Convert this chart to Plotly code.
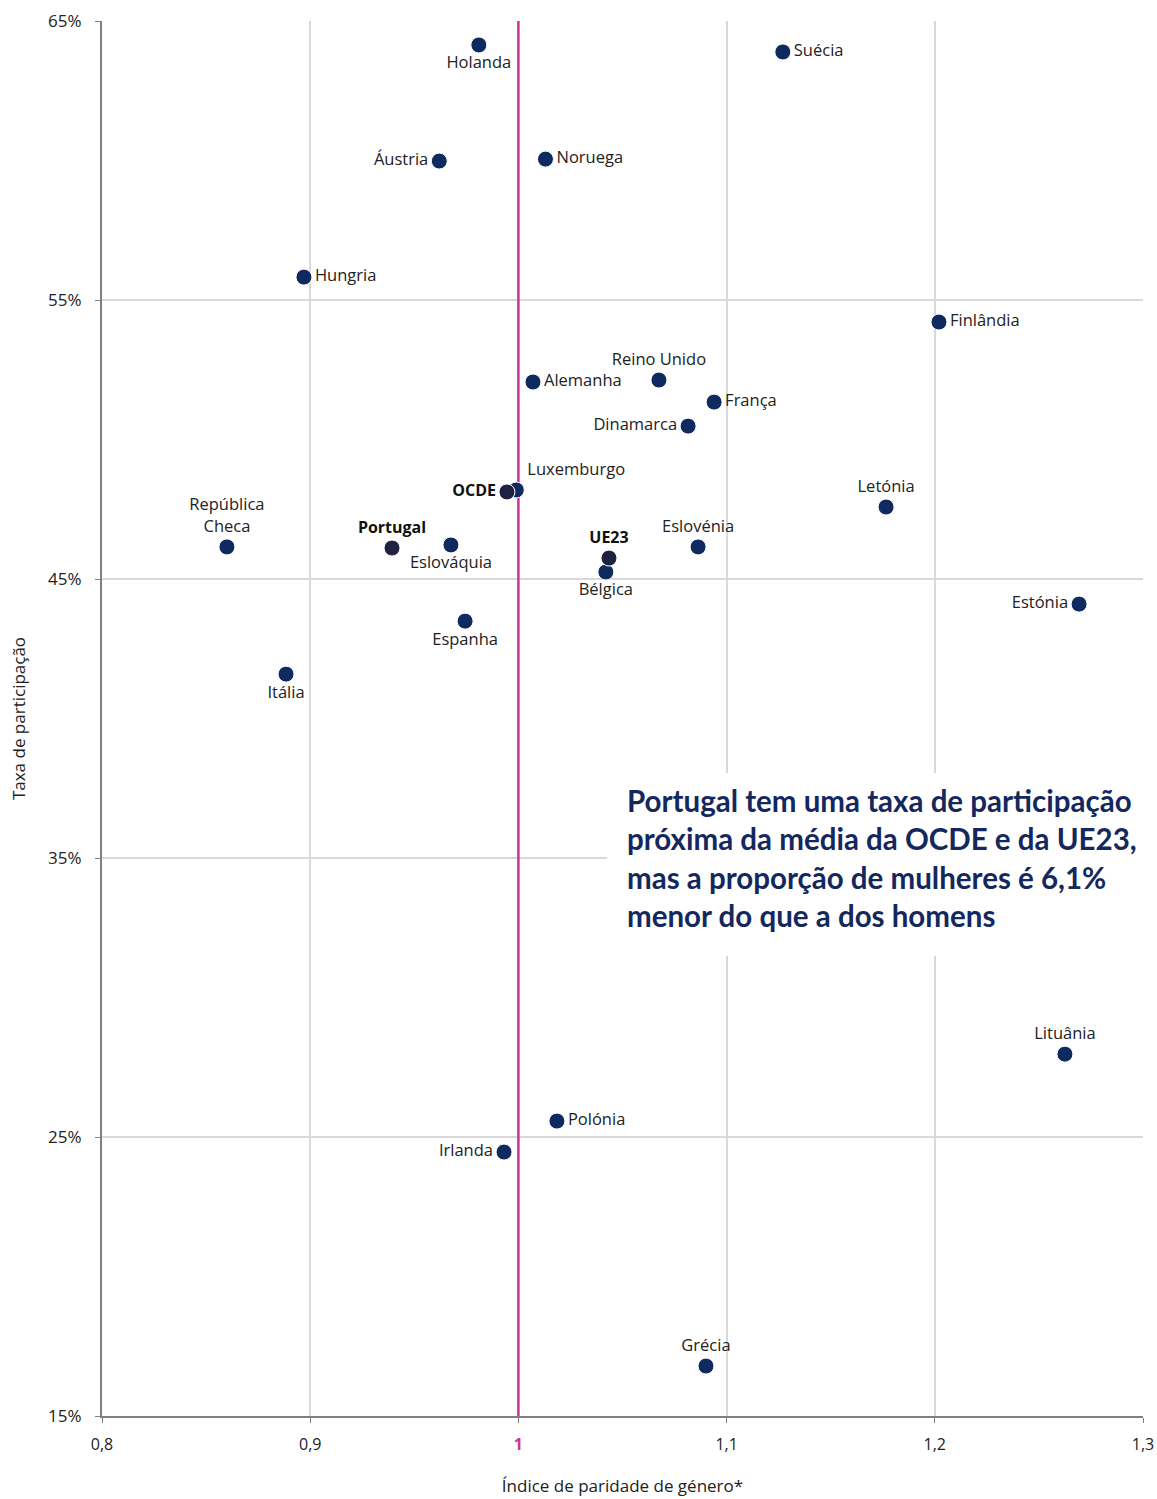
import plotly.graph_objects as go

# ---- data ----
countries = ["Holanda", "Suécia", "Áustria", "Noruega", "Hungria", "Finlândia",
             "Reino Unido", "Alemanha", "França", "Dinamarca", "Luxemburgo", "Letónia",
             "República<br>Checa", "Eslováquia", "Eslovénia", "Bélgica", "Estónia",
             "Espanha", "Itália", "Lituânia", "Polónia", "Irlanda", "Grécia"]
parity = [0.981, 1.127, 0.962, 1.013, 0.897, 1.202,
          1.0675, 1.007, 1.094, 1.0815, 0.999, 1.1766,
          0.860, 0.9676, 1.0863, 1.042, 1.2693,
          0.9744, 0.8884, 1.2625, 1.0185, 0.9931, 1.0901]
participation = [64.14, 63.89, 59.98, 60.05, 55.82, 54.21,
                 52.13, 52.06, 51.34, 50.48, 48.19, 47.58,
                 46.15, 46.22, 46.15, 45.25, 44.10,
                 43.49, 41.59, 27.97, 25.57, 24.46, 16.79]

aggregates = ["OCDE", "Portugal", "UE23"]
agg_parity = [0.9945, 0.9393, 1.0435]
agg_participation = [48.12, 46.11, 45.75]

x_ticks = [0.8, 0.9, 1.0, 1.1, 1.2, 1.3]
x_tick_labels = ["0,8", "0,9", "<b><span style='color:#cc3399'>1</span></b>", "1,1", "1,2", "1,3"]
y_ticks = [15, 25, 35, 45, 55, 65]
y_tick_labels = ["15%", "25%", "35%", "45%", "55%", "65%"]

note = ("Portugal tem uma taxa de participação<br>próxima da média da OCDE e da UE23,"
        "<br>mas a proporção de mulheres é 6,1%<br>menor do que a dos homens")

# ---- label placement (style) ----
pos = {
    "Holanda": "bottom center", "Suécia": "middle right", "Áustria": "middle left",
    "Noruega": "middle right", "Hungria": "middle right", "Finlândia": "middle right",
    "Reino Unido": "top center", "Alemanha": "middle right", "França": "middle right",
    "Dinamarca": "middle left", "Luxemburgo": "top right", "Letónia": "top center",
    "República<br>Checa": "top center", "Eslováquia": "bottom center",
    "Eslovénia": "top center", "Bélgica": "bottom center", "Estónia": "middle left",
    "Espanha": "bottom center", "Itália": "bottom center", "Lituânia": "top center",
    "Polónia": "middle right", "Irlanda": "middle left", "Grécia": "top center",
}
agg_pos = {"OCDE": "middle left", "Portugal": "top center", "UE23": "top center"}

NAVY = "#0f2a5f"
DARK = "#1e2140"
LABEL_FONT = dict(family="Open Sans, Noto Sans, sans-serif", size=16.5, color="#222222")

fig = go.Figure()
fig.add_trace(go.Scatter(
    x=parity, y=participation, mode="markers+text",
    text=countries, textposition=[pos[c] for c in countries],
    textfont=LABEL_FONT,
    marker=dict(size=16, color=NAVY, line=dict(color="white", width=1)),
    hoverinfo="skip", showlegend=False,
))
fig.add_trace(go.Scatter(
    x=agg_parity, y=agg_participation, mode="markers+text",
    text=["<b>" + a + "</b>" for a in aggregates],
    textposition=[agg_pos[a] for a in aggregates],
    textfont=dict(family="Open Sans, Noto Sans, sans-serif", size=16, color="#111111"),
    marker=dict(size=16, color=DARK, line=dict(color="white", width=1)),
    hoverinfo="skip", showlegend=False,
))

# reference line at parity = 1
fig.add_shape(type="line", xref="x", yref="y", x0=1, x1=1, y0=15, y1=65,
              line=dict(color="#cc3399", width=2.5), layer="between")
# white box behind the note
fig.add_shape(type="rect", xref="x", yref="y", x0=1.0426, x1=1.301, y0=31.5, y1=38.05,
              fillcolor="white", line=dict(width=0), layer="between")
fig.add_annotation(
    xref="x", yref="y", x=1.0513, y=37.75, xanchor="left", yanchor="top",
    text="<b>" + note + "</b>", showarrow=False, align="left",
    font=dict(family="Lato, Open Sans, sans-serif", size=29.5, color="#14285e"),
)

fig.update_layout(
    width=1157, height=1499,
    margin=dict(l=102, r=14, t=21, b=83),
    paper_bgcolor="white", plot_bgcolor="white",
    font=dict(family="Open Sans, Noto Sans, sans-serif", size=15, color="#222222"),
)
fig.update_xaxes(
    range=[0.8, 1.3], tickvals=x_ticks, ticktext=x_tick_labels,
    showgrid=True, gridcolor="#d9d9d9", gridwidth=1.5,
    showline=True, linecolor="#808080", linewidth=2,
    ticks="outside", ticklen=5, tickcolor="#808080", zeroline=False,
    tickfont=dict(size=16, color="#222222"), ticklabelstandoff=8,
    automargin=False,
    title=dict(text="Índice de paridade de género*", standoff=26,
               font=dict(size=17, color="#222222")),
)
fig.update_yaxes(
    range=[15, 65], tickvals=y_ticks, ticktext=y_tick_labels,
    showgrid=True, gridcolor="#d9d9d9", gridwidth=1.5,
    showline=True, linecolor="#808080", linewidth=2,
    ticks="outside", ticklen=5, tickcolor="#808080", zeroline=False,
    tickfont=dict(size=17, color="#222222"), ticklabelstandoff=10,
    automargin=False,
    title=dict(text="Taxa de participação", standoff=18,
               font=dict(size=17, color="#222222")),
)

fig.write_html("out.html", config={"displayModeBar": False},
               post_script="document.body.style.margin='0';document.body.style.padding='0';")
